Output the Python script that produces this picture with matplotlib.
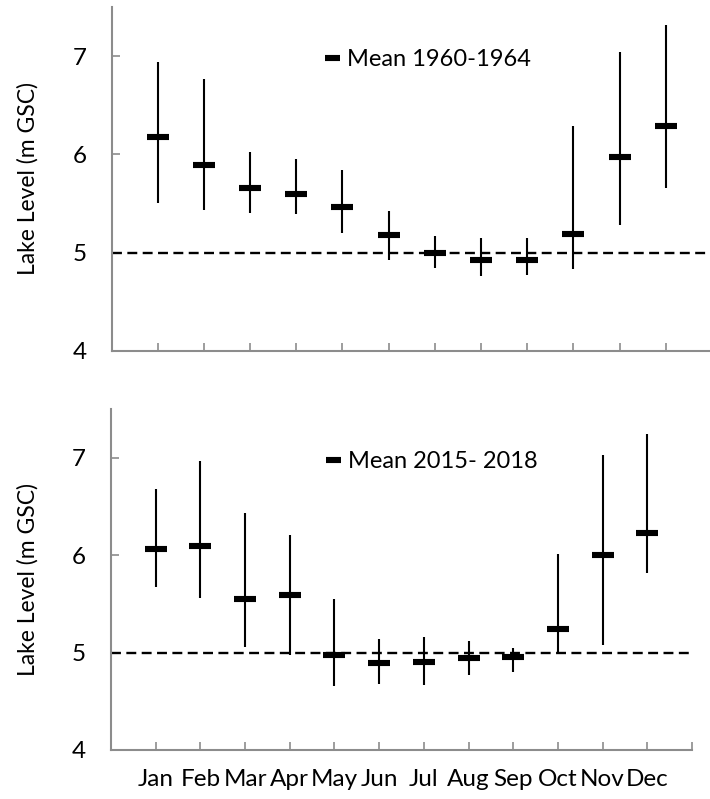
import matplotlib
matplotlib.use("Agg")
import matplotlib.pyplot as plt
from matplotlib.lines import Line2D

plt.rcParams['font.family'] = ['Lato', 'DejaVu Sans']

months = ['Jan', 'Feb', 'Mar', 'Apr', 'May', 'Jun', 'Jul', 'Aug', 'Sep', 'Oct', 'Nov', 'Dec']

mean_1960 = [6.18, 5.89, 5.66, 5.60, 5.46, 5.18, 5.00, 4.92, 4.92, 5.19, 5.97, 6.29]
max_1960 = [6.94, 6.77, 6.02, 5.95, 5.84, 5.42, 5.17, 5.15, 5.15, 6.29, 7.04, 7.32]
min_1960 = [5.50, 5.43, 5.40, 5.39, 5.20, 4.92, 4.84, 4.76, 4.77, 4.83, 5.28, 5.66]

mean_2015 = [6.06, 6.09, 5.55, 5.59, 4.98, 4.89, 4.90, 4.94, 4.95, 5.24, 6.00, 6.23]
max_2015 = [6.68, 6.97, 6.43, 6.21, 5.55, 5.14, 5.16, 5.12, 5.05, 6.01, 7.03, 7.24]
min_2015 = [5.67, 5.56, 5.06, 4.97, 4.66, 4.68, 4.67, 4.77, 4.80, 4.99, 5.08, 5.82]

ref_level = 5.0
legend_1960 = 'Mean 1960-1964'
legend_2015 = 'Mean 2015- 2018'
ylabel = 'Lake Level (m GSC)'

W, H = 710, 799
fig = plt.figure(figsize=(W / 100, H / 100), dpi=100)

grey = '#8c8c8c'


def px_axes(left, top, right, bottom):
    return fig.add_axes([left / W, 1 - bottom / H, (right - left) / W, (bottom - top) / H])


ax1 = px_axes(111.5, 7, 712, 350.7)
ax2 = px_axes(111, 409, 692, 750)

x = list(range(1, 13))


def draw(ax, mean, lo, hi, label, show_labels, legend_xy, left_px, width_px):
    ax.vlines(x, lo, hi, color='black', lw=1.5, zorder=3)
    ax.plot(x, mean, linestyle='none', marker='_', markersize=16.5,
            markeredgewidth=4.4, color='black', zorder=4)
    ax.axhline(ref_level, color='black', lw=1.7, dashes=(4.2, 2.3), zorder=2)
    ax.set_xlim(0, 13)
    ax.set_ylim(4, 7.5)
    ax.set_yticks([4, 5, 6, 7])
    ax.set_yticklabels(['4', '5', '6', '7'])
    ax.set_xticks(list(range(0, 14)))
    if show_labels:
        ax.set_xticklabels([''] + months + [''])
    else:
        ax.set_xticklabels([''] * 14)
    for s in ['top', 'right']:
        ax.spines[s].set_visible(False)
    for s in ['left', 'bottom']:
        ax.spines[s].set_color(grey)
        ax.spines[s].set_linewidth(1.5)
    ax.tick_params(axis='both', direction='in', length=6, width=1.2, color=grey,
                   labelsize=17.5, labelcolor='black')
    ax.tick_params(axis='y', pad=18)
    ax.tick_params(axis='x', pad=14)
    ax.set_ylabel(ylabel, fontsize=16.5)
    ax.yaxis.set_label_coords((39 - left_px) / width_px, 0.5)
    h = Line2D([], [], color='black', lw=4.4, solid_capstyle='butt')
    ax.legend([h], [label], loc='center left', bbox_to_anchor=legend_xy,
              bbox_transform=fig.transFigure, frameon=False, fontsize=17,
              handlelength=0.62, handletextpad=0.3, borderpad=0, borderaxespad=0)


draw(ax1, mean_1960, min_1960, max_1960, legend_1960, False, (325 / W, 1 - 60 / H),
     111.5, 712 - 111.5)
draw(ax2, mean_2015, min_2015, max_2015, legend_2015, True, (326 / W, 1 - 462 / H),
     111, 692 - 111)

fig.savefig('out.png', dpi=100)
